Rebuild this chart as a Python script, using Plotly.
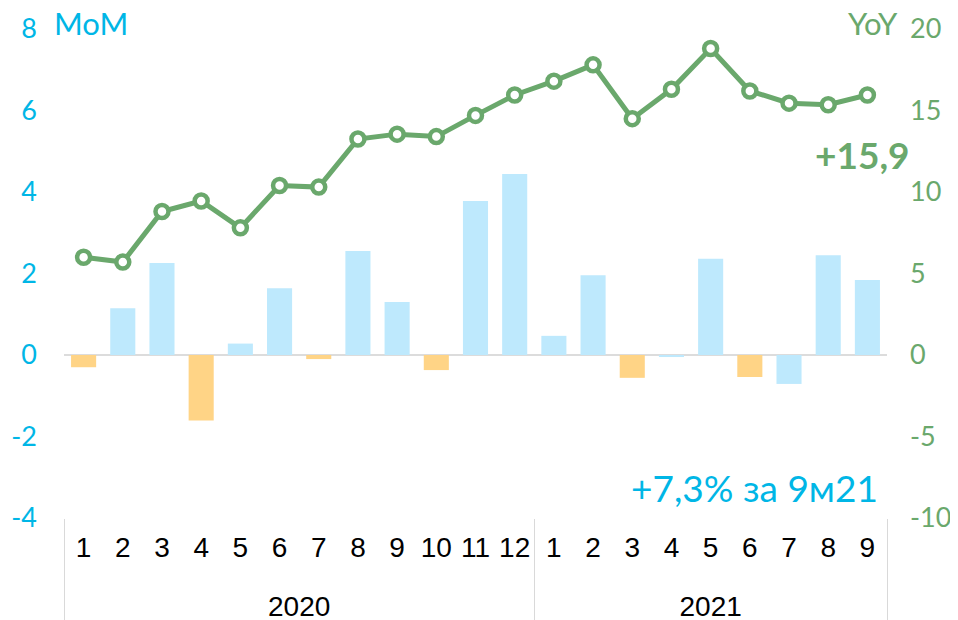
import plotly.graph_objects as go

years = ["2020"] * 12 + ["2021"] * 9
months = [str(m) for m in range(1, 13)] + [str(m) for m in range(1, 10)]

mom = [-0.30, 1.15, 2.26, -1.61, 0.28, 1.64, -0.10, 2.55, 1.30, -0.37, 3.78, 4.44,
       0.47, 1.96, -0.56, -0.05, 2.36, -0.54, -0.71, 2.45, 1.84]
yoy = [6.0, 5.7, 8.8, 9.45, 7.8, 10.4, 10.3, 13.25, 13.55, 13.4, 14.7, 15.95,
       16.8, 17.8, 14.5, 16.3, 18.8, 16.2, 15.45, 15.35, 15.95]
bar_kind = ["o", "b", "b", "o", "b", "b", "o", "b", "b", "o", "b", "b",
            "b", "b", "o", "b", "b", "o", "b", "b", "b"]

left_ticks = [-4, -2, 0, 2, 4, 6, 8]
left_text = ["-4", "-2", "0", "2", "4", "6", "8"]
right_ticks = [-10, -5, 0, 5, 10, 15, 20]
right_text = ["-10", "-5", "0", "5", "10", "15", "20"]

CYAN = "#00B6E6"
GREEN = "#6AA86C"
LBLUE = "#BEE9FD"
ORANGE = "#FFD486"
colors = [ORANGE if k == "o" else LBLUE for k in bar_kind]

# the page body adds an 8px margin, so the figure is drawn 8px in from the top-left
OFF = 8
W, H = 958 - OFF, 620 - OFF
L, T = 64 - OFF, 29 - OFF
R, B = W - (887 - OFF), H - (518 - OFF)
pw, ph = W - L - R, H - T - B

def px(xp):  # reference-pixel x -> paper fraction
    return (xp - OFF - L) / pw

def py(yp):  # reference-pixel y -> paper fraction
    return (H - B - (yp - OFF)) / ph

year_labels = ["<br>" + y for y in years]

fig = go.Figure()
fig.add_trace(go.Bar(x=[year_labels, months], y=mom, marker=dict(color=colors, line=dict(width=0)),
                     width=0.64, yaxis="y", showlegend=False, hoverinfo="skip"))
fig.add_trace(go.Scatter(x=[year_labels, months], y=yoy, yaxis="y2", mode="lines+markers",
                         line=dict(color=GREEN, width=5),
                         marker=dict(symbol="circle", size=13, color="white",
                                     line=dict(color=GREEN, width=4.5)),
                         showlegend=False, hoverinfo="skip"))

tickfont_num = dict(family="Lato, Noto Sans, sans-serif", size=27)
fig.update_layout(
    width=W, height=H,
    margin=dict(l=L, r=R, t=T, b=B, autoexpand=False),
    paper_bgcolor="white", plot_bgcolor="white",
    xaxis=dict(type="multicategory", range=[-0.5, 20.5], automargin=False,
               showgrid=False, showline=False, ticks="", ticklabelstandoff=10,
               showdividers=True, dividercolor="#D9D9D9", dividerwidth=1,
               tickfont=dict(family="Liberation Sans, Arial, sans-serif", size=28, color="black")),
    yaxis=dict(range=[-4, 8], tickvals=left_ticks, ticktext=left_text, automargin=False,
               showgrid=False, zeroline=True,
               zerolinecolor="#DCDCDC", zerolinewidth=2, showline=False,
               tickfont=dict(color=CYAN, **tickfont_num), ticklabelstandoff=26),
    yaxis2=dict(range=[-10, 20], tickvals=right_ticks, ticktext=right_text, automargin=False,
                overlaying="y", side="right",
                showgrid=False, zeroline=False, showline=False,
                tickfont=dict(color=GREEN, **tickfont_num), ticklabelstandoff=22),
)

annots = [
    dict(text="MoM", x=px(52), y=py(23), xanchor="left", yanchor="middle",
         font=dict(family="Lato, Noto Sans, sans-serif", size=31, color=CYAN)),
    dict(text="YoY", x=px(900), y=py(23), xanchor="right", yanchor="middle",
         font=dict(family="Lato, Noto Sans, sans-serif", size=31, color=GREEN)),
    dict(text="<b>+15,9</b>", x=px(912), y=py(154), xanchor="right", yanchor="middle",
         font=dict(family="Lato, Noto Sans, sans-serif", size=37, color=GREEN)),
    dict(text="+7,3% за 9м21", x=px(880), y=py(487), xanchor="right", yanchor="middle",
         font=dict(family="Lato, Noto Sans, sans-serif", size=37, color=CYAN)),
]
for a in annots:
    fig.add_annotation(xref="paper", yref="paper", showarrow=False, **a)

fig.write_html("out.html")
